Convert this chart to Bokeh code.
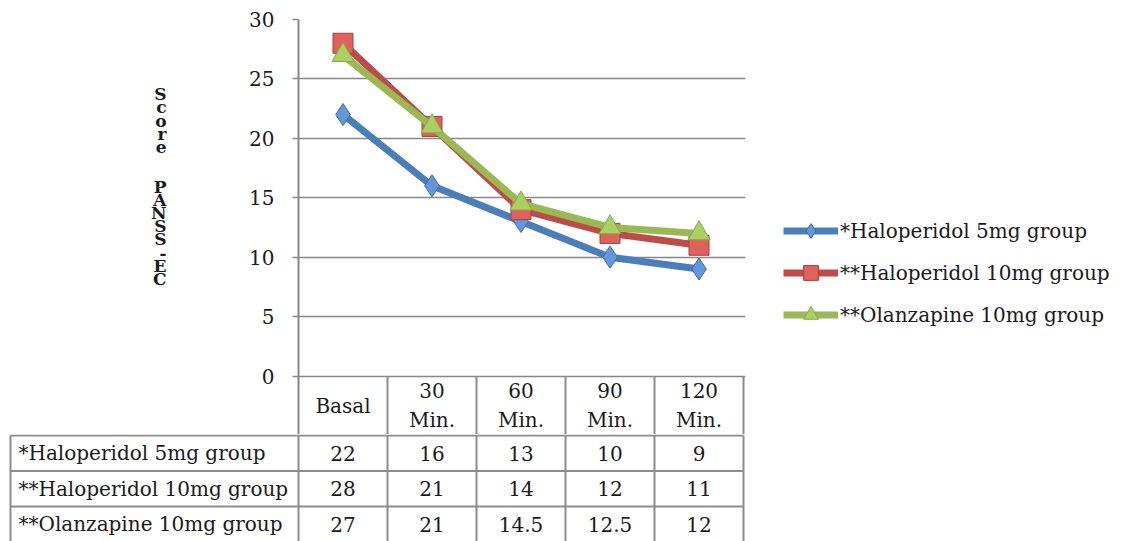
from bokeh.plotting import figure
from bokeh.layouts import column
from bokeh.models import Range1d, FixedTicker, Legend, LegendItem, LinearAxis, ColumnDataSource
from bokeh.embed import file_html
from bokeh.resources import INLINE
from bokeh.core.properties import value

# ---------------- data ----------------
categories = ["Basal", "30 Min.", "60 Min.", "90 Min.", "120 Min."]
header_labels = ["Basal", "30\nMin.", "60\nMin.", "90\nMin.", "120\nMin."]
series_names = ["*Haloperidol 5mg group", "**Haloperidol 10mg group", "**Olanzapine 10mg group"]
haloperidol_5mg = [22, 16, 13, 10, 9]
haloperidol_10mg = [28, 21, 14, 12, 11]
olanzapine_10mg = [27, 21, 14.5, 12.5, 12]
y_ticks = [0, 5, 10, 15, 20, 25, 30]
y_title = "Score  PANSS-EC"

series_values = [haloperidol_5mg, haloperidol_10mg, olanzapine_10mg]

# ---------------- layout constants (pixels) ----------------
W, H = 1121, 541
FRAME_LEFT, FRAME_RIGHT = 298, 743
TOP_PX, ZERO_PX = 19, 375.5
SPLIT_PX = 434          # bottom of the chart figure / top of table figure
HEADER_BOTTOM_PX = 435
TABLE_LEFT_PX = 10
ROW_H_PX = 35.5
TITLE_CENTER_PX = 186
FONT = "DejaVu Serif"
FS = "20px"
TXT = "#1a1a1a"
GRID = "#878787"
BORDER = "#8c8c8c"

n = len(categories)
col_w = (FRAME_RIGHT - FRAME_LEFT) / n
ymax = y_ticks[-1]
ppu = (ZERO_PX - TOP_PX) / ymax
y_start = -(SPLIT_PX - ZERO_PX) / ppu
header_bottom = -(HEADER_BOTTOM_PX - ZERO_PX) / ppu
xpad = 2 / col_w

# ---------------- chart figure ----------------
p = figure(frame_width=FRAME_RIGHT - FRAME_LEFT + 2, frame_height=SPLIT_PX - TOP_PX,
           x_range=Range1d(0, n + xpad), y_range=Range1d(y_start, ymax),
           min_border_left=FRAME_LEFT, min_border_right=0,
           min_border_top=TOP_PX, min_border_bottom=0, frame_align=False,
           output_backend="svg", toolbar_location=None, x_axis_location=None)
p.outline_line_color = None
p.background_fill_color = "white"
p.border_fill_color = "white"
p.xgrid.visible = False
p.ygrid.ticker = FixedTicker(ticks=y_ticks)
p.ygrid.grid_line_color = GRID
p.ygrid.grid_line_width = 1.6

ax = p.yaxis[0]
ax.ticker = FixedTicker(ticks=y_ticks)
ax.axis_line_color = GRID
ax.axis_line_width = 2
ax.major_tick_line_color = GRID
ax.major_tick_line_width = 1.6
ax.major_tick_out = 6
ax.major_tick_in = 0
ax.minor_tick_line_color = None
ax.major_label_standoff = 18
ax.major_label_text_font = FONT
ax.major_label_text_font_size = FS
ax.major_label_text_color = TXT

# stacked y-axis title, as a second axis on the left with a single labelled tick
title_pos = (ZERO_PX - TITLE_CENTER_PX) / ppu
tax = LinearAxis(ticker=FixedTicker(ticks=[title_pos]),
                 major_label_overrides={title_pos: "\n".join(y_title)},
                 axis_line_color=None, major_tick_line_color=None, minor_tick_line_color=None,
                 major_label_standoff=74, major_label_text_font=FONT,
                 major_label_text_font_style="bold", major_label_text_font_size="17px",
                 major_label_text_line_height=0.66, major_label_text_color=TXT)
p.add_layout(tax, "left")

# header row of the data table (category labels) below the zero line
xs_center = [i + 0.5 for i in range(n)]
sep_x = [i + 1 for i in range(n)]
p.segment(x0=sep_x, y0=[0] * n, x1=sep_x, y1=[y_start] * n, line_color=BORDER, line_width=2)
p.text(x=xs_center, y=[header_bottom / 2] * n, text=header_labels, text_align="center",
       text_baseline="middle", text_font=value(FONT), text_font_size=FS, text_color=TXT,
       text_line_height=1.2)

line_colors = ["#4a7ebb", "#be4b48", "#98b954"]
fill_colors = ["#6298d9", "#e0605c", "#a9d161"]
edge_colors = ["#3d6ca8", "#a8403d", "#86a84a"]
markers = ["diamond", "square", "triangle"]
sizes = [22, 20, 22]

items = []
for name, vals, lc, fc, ec, mk, sz in zip(series_names, series_values, line_colors, fill_colors,
                                          edge_colors, markers, sizes):
    src = ColumnDataSource(dict(x=xs_center, y=vals))
    lr = p.line("x", "y", source=src, line_color=lc, line_width=7, line_join="round")
    sr = p.scatter("x", "y", source=src, marker=mk, size=sz, fill_color=fc, line_color=ec, line_width=1)
    items.append(LegendItem(label=name, renderers=[lr, sr]))

legend = Legend(items=items, location=(38, 101), glyph_width=55, glyph_height=37,
                spacing=5, padding=0, margin=0, label_standoff=2,
                label_text_font=FONT, label_text_font_size=FS, label_text_color=TXT,
                border_line_color=None, background_fill_alpha=0)
p.add_layout(legend, "right")

# ---------------- table figure ----------------
TH = H - SPLIT_PX
rows = len(series_names)
t = figure(width=W, height=TH,
           x_range=Range1d(-FRAME_LEFT / col_w, (W - FRAME_LEFT) / col_w),
           y_range=Range1d((H - HEADER_BOTTOM_PX) / ROW_H_PX, -(HEADER_BOTTOM_PX - SPLIT_PX) / ROW_H_PX),
           min_border=0, min_border_left=0, min_border_right=0, min_border_top=0, min_border_bottom=0,
           frame_align=False, output_backend="svg", toolbar_location=None,
           x_axis_location=None, y_axis_location=None)
t.outline_line_color = None
t.xgrid.visible = False
t.ygrid.visible = False
table_left = (TABLE_LEFT_PX - FRAME_LEFT) / col_w

hy = list(range(rows + 1))
t.segment(x0=[table_left] * (rows + 1), y0=hy, x1=[n] * (rows + 1), y1=hy, line_color=BORDER, line_width=2)
vx = [table_left] + list(range(n + 1))
t.segment(x0=vx, y0=[0] * len(vx), x1=vx, y1=[rows] * len(vx), line_color=BORDER, line_width=2)

t.text(x=[table_left + 8 / col_w] * rows, y=[r + 0.5 for r in range(rows)], text=series_names,
       text_align="left", text_baseline="middle", text_font=value(FONT), text_font_size=FS,
       text_color=TXT)
cx, cy, ct = [], [], []
for r, vals in enumerate(series_values):
    for c, v in enumerate(vals):
        cx.append(c + 0.5)
        cy.append(r + 0.5)
        ct.append(f"{v:g}")
t.text(x=cx, y=cy, text=ct, text_align="center", text_baseline="middle", text_font=value(FONT),
       text_font_size=FS, text_color=TXT)

layout = column(p, t, spacing=0)
open("out.html", "w").write(file_html(layout, INLINE))
